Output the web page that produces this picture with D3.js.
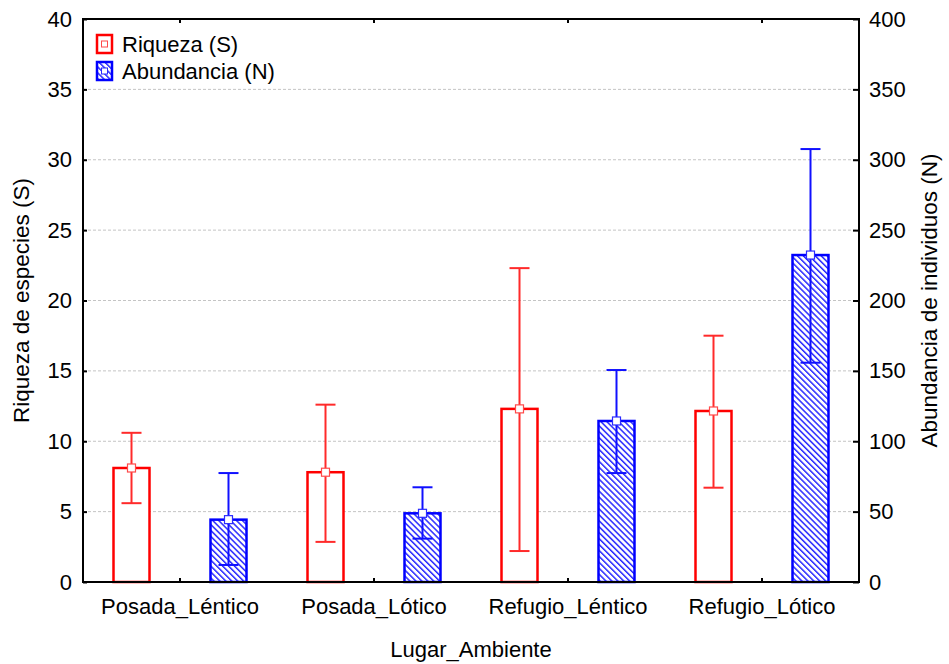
<!DOCTYPE html>
<html>
<head>
<meta charset="utf-8">
<script src="https://cdn.jsdelivr.net/npm/d3@7"></script>
<style>
  html, body { margin: 0; padding: 0; background: #fff; }
  svg { display: block; font-family: "Liberation Sans", Arial, sans-serif; }
</style>
</head>
<body>
<svg id="chart" width="949" height="664"></svg>
<script>
// Sites / habitats
const categories = ["Posada_Léntico", "Posada_Lótico", "Refugio_Léntico", "Refugio_Lótico"];

// Species richness (S): mean and interval bounds
const riquezaMean = [8.1, 7.8, 12.3, 12.15];
const riquezaLow  = [5.6, 2.85, 2.2, 6.7];
const riquezaHigh = [10.6, 12.6, 22.3, 17.5];

// Abundance (N): mean and interval bounds
const abundMean = [44.3, 48.8, 114.4, 232.3];
const abundLow  = [12.1, 30.8, 77.4, 155.8];
const abundHigh = [77.4, 67.3, 150.6, 307.6];

const leftTicks  = [0, 5, 10, 15, 20, 25, 30, 35, 40];
const rightTicks = [0, 50, 100, 150, 200, 250, 300, 350, 400];
const seriesNames = ["Riqueza (S)", "Abundancia (N)"];

const svg = d3.select("#chart");
const plot = { left: 83, right: 859, top: 19, bottom: 582 };
const font = 22;
const titleFont = 22.5;

const x = d3.scaleBand().domain(categories).range([plot.left, plot.right]).padding(0);
const xs = d3.scalePoint().domain(["S", "N"]).range([0, x.bandwidth()]).padding(0.5);
const yL = d3.scaleLinear().domain([0, 40]).range([plot.bottom, plot.top]);
const yR = d3.scaleLinear().domain([0, 400]).range([plot.bottom, plot.top]);
const barW = 36;

// Hatch pattern for the abundance bars (lines running top-left to bottom-right)
const hatchStep = 4.2;
const defs = svg.append("defs");
const pat = defs.append("pattern")
  .attr("id", "hatch").attr("patternUnits", "userSpaceOnUse")
  .attr("width", hatchStep).attr("height", hatchStep)
  .attr("patternTransform", "rotate(-45)");
pat.append("rect").attr("width", hatchStep).attr("height", hatchStep).attr("fill", "#ffffff");
pat.append("rect").attr("x", 0).attr("width", 1.5).attr("height", hatchStep).attr("fill", "#2a2aff");

// Dashed grid lines
svg.append("g").selectAll("line")
  .data(leftTicks.filter(t => t > 0 && t < 40))
  .join("line")
  .attr("x1", plot.left).attr("x2", plot.right)
  .attr("y1", d => yL(d)).attr("y2", d => yL(d))
  .attr("stroke", "#c4c4c4").attr("stroke-width", 1)
  .attr("stroke-dasharray", "3,2");

// Bars
const bars = svg.append("g");
categories.forEach((c, i) => {
  const cxS = x(c) + xs("S");
  const cxN = x(c) + xs("N");
  bars.append("rect")
    .attr("x", cxS - barW / 2).attr("y", yL(riquezaMean[i]))
    .attr("width", barW).attr("height", yL(0) - yL(riquezaMean[i]))
    .attr("fill", "#ffffff").attr("stroke", "#ff0000").attr("stroke-width", 2.5);
  bars.append("rect")
    .attr("x", cxN - barW / 2).attr("y", yR(abundMean[i]))
    .attr("width", barW).attr("height", yR(0) - yR(abundMean[i]))
    .attr("fill", "url(#hatch)").attr("stroke", "#0000ff").attr("stroke-width", 2.5);
});

// Error bars with caps and mean markers
function errorBar(g, cx, yLo, yHi, yMean, color, markerStroke) {
  const cap = 10;
  g.append("line").attr("x1", cx).attr("x2", cx).attr("y1", yLo).attr("y2", yHi)
    .attr("stroke", color).attr("stroke-width", 2);
  [yLo, yHi].forEach(yy => {
    g.append("line").attr("x1", cx - cap).attr("x2", cx + cap).attr("y1", yy).attr("y2", yy)
      .attr("stroke", color).attr("stroke-width", 2);
  });
  g.append("rect").attr("x", cx - 4).attr("y", yMean - 4).attr("width", 8).attr("height", 8)
    .attr("fill", "#ffffff").attr("stroke", markerStroke).attr("stroke-width", 1.2);
}
const eb = svg.append("g");
categories.forEach((c, i) => {
  errorBar(eb, x(c) + xs("S"), yL(riquezaLow[i]), yL(riquezaHigh[i]), yL(riquezaMean[i]), "#ff2a2a", "#ff4a4a");
  errorBar(eb, x(c) + xs("N"), yR(abundLow[i]), yR(abundHigh[i]), yR(abundMean[i]), "#1010ff", "#2a2aff");
});

// Frame
const frame = svg.append("g").attr("stroke", "#000").attr("stroke-width", 2).attr("fill", "none");
frame.append("rect").attr("x", plot.left).attr("y", plot.top)
  .attr("width", plot.right - plot.left).attr("height", plot.bottom - plot.top);

// Left axis
const axL = svg.append("g").attr("transform", `translate(${plot.left},0)`)
  .call(d3.axisLeft(yL).tickValues(leftTicks).tickSize(-4).tickPadding(11));
// Right axis
const axR = svg.append("g").attr("transform", `translate(${plot.right},0)`)
  .call(d3.axisRight(yR).tickValues(rightTicks).tickSize(-6).tickPadding(10));
// Bottom and top category ticks
const axB = svg.append("g").attr("transform", `translate(0,${plot.bottom})`)
  .call(d3.axisBottom(x).tickSize(-4).tickPadding(16));
const axT = svg.append("g").attr("transform", `translate(0,${plot.top})`)
  .call(d3.axisTop(x).tickSize(-4).tickFormat(""));

[axL, axR, axB, axT].forEach(a => {
  a.select(".domain").remove();
  a.selectAll(".tick line").attr("stroke", "#000").attr("stroke-width", 2);
  a.selectAll("text").attr("font-size", font).attr("fill", "#000")
    .attr("font-family", "'Liberation Sans', Arial, sans-serif");
});
axB.selectAll("text").attr("dy", "0.71em");

// Axis titles
svg.append("text").attr("transform", `translate(29,${(plot.top + plot.bottom) / 2}) rotate(-90)`)
  .attr("text-anchor", "middle").attr("font-size", titleFont).text("Riqueza de especies (S)");
svg.append("text").attr("transform", `translate(937,${(plot.top + plot.bottom) / 2}) rotate(-90)`)
  .attr("text-anchor", "middle").attr("font-size", titleFont).text("Abundancia de individuos (N)");
svg.append("text").attr("x", (plot.left + plot.right) / 2).attr("y", 657)
  .attr("text-anchor", "middle").attr("font-size", font).text("Lugar_Ambiente");

// Legend
const legend = svg.append("g");
const legendFills = ["#ffffff", "url(#hatch)"];
const legendStrokes = ["#ff0000", "#0000ff"];
const legendMarkers = ["#ff4a4a", "#2a2aff"];
seriesNames.forEach((name, i) => {
  const y0 = 35 + i * 27;
  legend.append("rect").attr("x", 97).attr("y", y0).attr("width", 15).attr("height", 18)
    .attr("fill", legendFills[i]).attr("stroke", legendStrokes[i]).attr("stroke-width", 2.5);
  legend.append("rect").attr("x", 101.5).attr("y", y0 + 6).attr("width", 6).attr("height", 6)
    .attr("fill", "#fff").attr("stroke", legendMarkers[i]).attr("stroke-width", 1);
  legend.append("text").attr("x", 122).attr("y", y0 + 17).attr("font-size", font).text(name);
});
</script>
</body>
</html>
